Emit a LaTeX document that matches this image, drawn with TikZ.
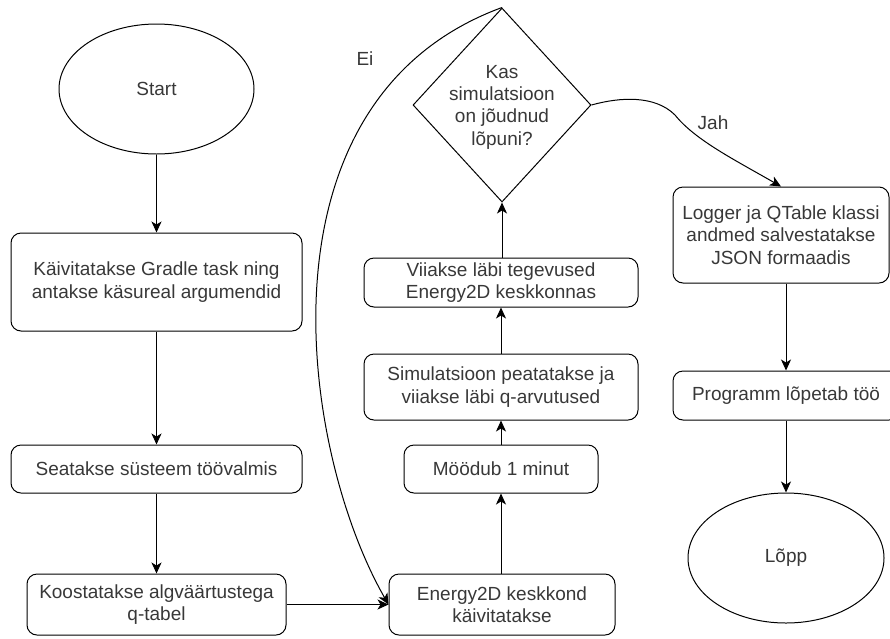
\documentclass[tikz,border=0pt]{standalone}
\usepackage{fontspec}
\setmainfont{Liberation Sans}
\usetikzlibrary{shapes.geometric,arrows.meta}
\begin{document}
\begin{tikzpicture}[x=1pt,y=-1pt,
  every node/.style={font=\fontsize{19}{22.3}\selectfont, text=black!78, align=center, inner sep=0pt},
  box/.style={draw=black, line width=1pt, rounded corners=10pt, rectangle},
  oval/.style={draw=black, line width=1pt, ellipse},
  arr/.style={draw=black, line width=1pt, -{Stealth[length=11pt,width=10pt,inset=3pt]}},
  lbl/.style={}]
\useasboundingbox (0,0) rectangle (890,638);
% left column
\node[oval, minimum width=195pt, minimum height=130pt] (start) at (156.5,89) {Start};
\node[box, minimum width=291pt, minimum height=98pt] (b1) at (156.5,282) {Käivitatakse Gradle task ning\\antakse käsureal argumendid};
\node[box, minimum width=291pt, minimum height=48pt] (b2) at (156.5,469) {Seatakse süsteem töövalmis};
\node[box, minimum width=259pt, minimum height=61pt] (b3) at (156.5,604.5) {Koostatakse algväärtustega\\q-tabel};
% middle column
\node[box, minimum width=226pt, minimum height=61pt] (en) at (502,604.5) {Energy2D keskkond\\käivitatakse};
\node[box, minimum width=194pt, minimum height=48pt] (mo) at (501,469) {Möödub 1 minut};
\node[box, minimum width=274pt, minimum height=66pt] (si) at (501,387) {Simulatsioon peatatakse ja\\viiakse läbi q-arvutused};
\node[box, minimum width=274pt, minimum height=49pt] (vi) at (501,282.5) {Viiakse läbi tegevused\\Energy2D keskkonnas};
\node[draw=black, line width=1pt, diamond, minimum width=178pt, minimum height=194pt] (dia) at (502,105) {};
\node (diat) at (502,107) {Kas\\simulatsioon\\on jõudnud\\lõpuni?};
% right column
\node[box, minimum width=216pt, minimum height=96pt] (lg) at (781,235) {Logger ja QTable klassi\\andmed salvestatakse\\JSON formaadis};
\node[box, minimum width=226pt, minimum height=49pt] (pr) at (786,395.5) {Programm lõpetab töö};
\node[oval, minimum width=196pt, minimum height=130pt] (lopp) at (786,558) {Lõpp};
% labels
\node[lbl] (ei) at (365,59) {Ei};
\node[lbl] (jah) at (713,123) {Jah};
% connectors
\draw[arr] (start) -- (b1);
\draw[arr] (b1) -- (b2);
\draw[arr] (b2) -- (b3);
\draw[arr] (b3.east) -- (en.west);
\draw[arr] (en.north -| mo) -- (mo.south);
\draw[arr] (mo.north) -- (si.south -| mo);
\draw[arr] (si.north -| mo) -- (vi.south -| mo);
\draw[arr] (vi.north -| dia) -- (dia.south);
\draw[arr] (dia.north) .. controls (250,100) and (300,450) .. (en.west);
\draw[arr] (dia.east) .. controls (620,97) and (655,95) .. (675,115) .. controls (695,140) and (735,160) .. (lg.north);
\draw[arr] (lg.south -| lopp) -- (pr.north -| lopp);
\draw[arr] (pr.south -| lopp) -- (lopp.north);
\end{tikzpicture}
\end{document}
